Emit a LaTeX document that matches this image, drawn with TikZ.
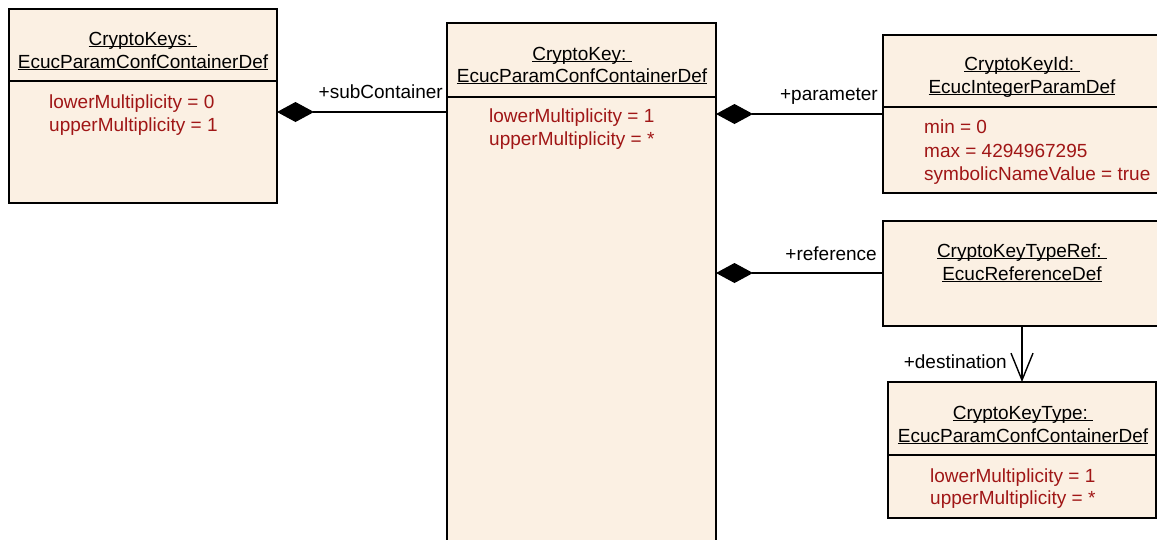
\documentclass[tikz,border=0pt]{standalone}
\usepackage{fontspec}
\setmainfont{Liberation Sans}
\usetikzlibrary{arrows.meta}
\definecolor{boxfill}{RGB}{251,240,227}
\definecolor{attr}{RGB}{160,22,22}
% underline that sits just below the baseline, crossing descenders
\newcommand\undl[1]{\sbox0{#1}\rlap{\rule[-2.4pt]{\wd0}{1.3pt}}\usebox0}

\begin{document}
\begin{tikzpicture}[x=1pt,y=-1pt,
  box/.style={draw=black, line width=1.8pt, fill=boxfill, rectangle,
    inner sep=0pt, outer sep=0pt, anchor=north west},
  sep/.style={line width=1.4pt},
  txt/.style={inner sep=0pt, anchor=base, font=\fontsize{19}{23}\selectfont},
  attrtxt/.style={txt, anchor=base west, text=attr},
  role/.style={txt, anchor=base east},
  comp/.style={line width=1.4pt, -{Diamond[length=37pt,width=20pt]}},
  nav/.style={line width=1.4pt, -{Straight Barb[length=27pt,width=22pt]}}
]
\useasboundingbox (0,0) rectangle (1157,539);
\clip (0,0) rectangle (1157,539);

% class boxes
\node[box, minimum width=268pt, minimum height=194pt] (keys) at (9,9) {};
\node[box, minimum width=269pt, minimum height=540pt] (key) at (447,23) {};
\node[box, minimum width=280pt, minimum height=158pt] (keyid) at (883,35) {};
\node[box, minimum width=280pt, minimum height=105pt] (typeref) at (883,221) {};
\node[box, minimum width=268pt, minimum height=136pt] (ktype) at (888,382) {};

% compartment separators
\draw[sep] (keys.west |- 0,81) -- (keys.east |- 0,81);
\draw[sep] (key.west |- 0,97) -- (key.east |- 0,97);
\draw[sep] (keyid.west |- 0,107) -- (keyid.east |- 0,107);
\draw[sep] (ktype.west |- 0,455) -- (ktype.east |- 0,455);

% CryptoKeys
\node[txt] (keysT1) at (143,45) {\undl{CryptoKeys:\ }};
\node[txt] (keysT2) at (143,68) {\undl{EcucParamConfContainerDef}};
\node[attrtxt] (keysA1) at (49,108) {lowerMultiplicity = 0};
\node[attrtxt] (keysA2) at (49,131) {upperMultiplicity = 1};

% CryptoKey
\node[txt] (keyT1) at (582,60) {\undl{CryptoKey:\ }};
\node[txt] (keyT2) at (582,82) {\undl{EcucParamConfContainerDef}};
\node[attrtxt] (keyA1) at (489,122) {lowerMultiplicity = 1};
\node[attrtxt] (keyA2) at (489,145) {upperMultiplicity = *};

% CryptoKeyId
\node[txt] (keyidT1) at (1022,70) {\undl{CryptoKeyId:\ }};
\node[txt] (keyidT2) at (1022,93) {\undl{EcucIntegerParamDef}};
\node[attrtxt] (keyidA1) at (924,133) {min = 0};
\node[attrtxt] (keyidA2) at (924,157) {max = 4294967295};
\node[attrtxt] (keyidA3) at (924,180) {symbolicNameValue = true};

% CryptoKeyTypeRef
\node[txt] (typerefT1) at (1022,257) {\undl{CryptoKeyTypeRef:\ }};
\node[txt] (typerefT2) at (1022,280) {\undl{EcucReferenceDef}};

% CryptoKeyType
\node[txt] (ktypeT1) at (1023,419) {\undl{CryptoKeyType:\ }};
\node[txt] (ktypeT2) at (1023,442) {\undl{EcucParamConfContainerDef}};
\node[attrtxt] (ktypeA1) at (930,482) {lowerMultiplicity = 1};
\node[attrtxt] (ktypeA2) at (930,504) {upperMultiplicity = *};

% associations
\draw[comp] (key.west |- 0,112) -- (keys.east |- 0,112);
\draw[comp] (keyid.west |- 0,114) -- (key.east |- 0,114);
\draw[comp] (typeref.west |- 0,273) -- (key.east |- 0,273);
\draw[nav] (typeref.south -| 1022,0) -- (ktype.north -| 1022,0);

% role names
\node[role] (lsub) at (443,98) {+subContainer};
\node[role] (lpar) at (878,100) {+parameter};
\node[role] (lref) at (877,260) {+reference};
\node[role] (ldest) at (1007,368) {+destination};
\end{tikzpicture}
\end{document}
